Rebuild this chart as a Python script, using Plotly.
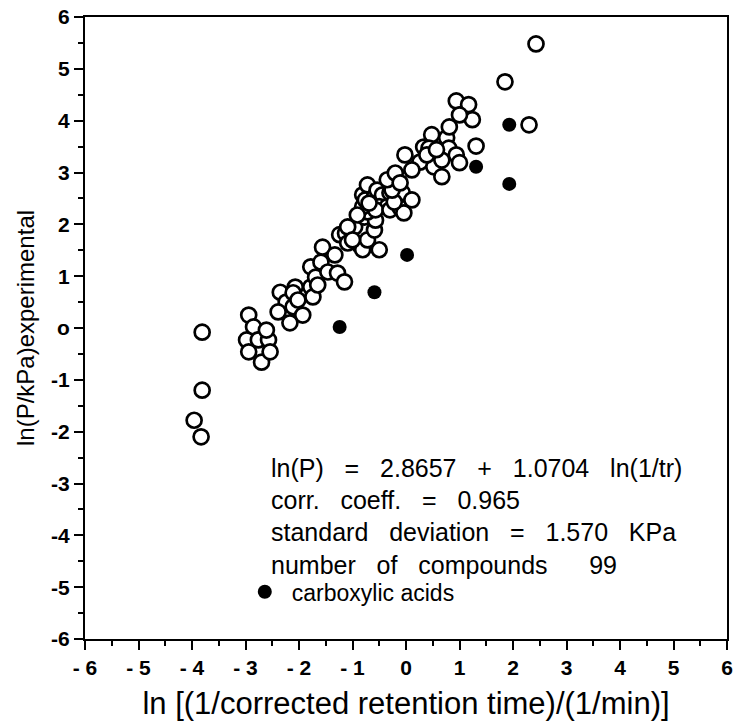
import plotly.graph_objects as go

# open circles: all compounds except the carboxylic acids
open_x = [-3.81, -3.81, -3.96, -3.83,
          -2.94, -2.85, -2.98, -2.94, -2.76, -2.57, -2.70, -2.54, -2.61,
          -2.35, -2.24, -2.39, -2.11, -2.17, -2.07, -2.11, -1.93, -1.78, -1.74, -2.02,
          -1.78, -1.59, -1.69, -1.46, -1.28, -1.15, -1.56, -1.33, -1.65,
          -1.24, -1.13, -1.09, -0.96, -1.09, -0.87, -0.81, -0.72, -0.59, -0.50, -1.00,
          -0.78, -0.57, -0.72, -0.81, -0.81, -0.76, -0.72, -0.59, -0.54, -0.44, -0.30,
          -0.50, -0.35, -0.57, -0.30, -0.11, -0.04, -0.07, 0.11, -0.22, -0.69, -0.91, -0.26,
          -0.35, -0.20, -0.11, -0.02, 0.26, 0.33, 0.52, 0.48, 0.43, 0.67, 0.11, 0.39,
          0.76, 0.80, 0.81, 0.94, 1.17, 1.24, 1.00, 0.94, 1.00, 1.31, 0.67, 0.57,
          1.85, 2.30, 2.43]
open_y = [-0.08, -1.20, -1.78, -2.10,
          0.25, 0.02, -0.23, -0.46, -0.23, -0.23, -0.66, -0.46, -0.04,
          0.69, 0.50, 0.31, 0.41, 0.10, 0.79, 0.68, 0.25, 0.79, 0.60, 0.54,
          1.18, 1.27, 0.98, 1.08, 1.06, 0.89, 1.56, 1.41, 0.83,
          1.80, 1.83, 1.64, 1.95, 1.95, 1.60, 1.51, 1.70, 1.89, 1.51, 1.70,
          2.14, 2.08, 2.24, 2.34, 2.57, 2.47, 2.76, 2.53, 2.66, 2.57, 2.61,
          2.34, 2.34, 2.28, 2.28, 2.32, 2.22, 2.61, 2.47, 2.43, 2.41, 2.18, 2.66,
          2.86, 2.99, 2.80, 3.34, 3.20, 3.49, 3.11, 3.73, 3.47, 2.92, 3.05, 3.34,
          3.67, 3.47, 3.88, 4.38, 4.31, 4.02, 4.11, 3.34, 3.19, 3.51, 3.24, 3.44,
          4.75, 3.92, 5.48]

# filled circles: carboxylic acids
acid_x = [1.93, 1.31, 1.93, 0.02, -0.59, -1.24]
acid_y = [3.92, 3.11, 2.78, 1.41, 0.69, 0.02]

tick_vals = [-6, -5, -4, -3, -2, -1, 0, 1, 2, 3, 4, 5, 6]
x_tick_text = ["- 6", "- 5", "- 4", "- 3", "- 2", "- 1", "0", "1", "2", "3", "4", "5", "6"]
y_tick_text = ["-6", "-5", "-4", "-3", "-2", "-1", "o", "1", "2", "3", "4", "5", "6"]

stats_lines = [
    "ln(P)   =   2.8657   +   1.0704   ln(1/tr)",
    "corr.   coeff.   =   0.965",
    "standard   deviation   =   1.570   KPa",
    "number   of   compounds      99",
]
stats_y = [-2.70, -3.32, -3.94, -4.58]

FONT = "Liberation Sans, Arial, Helvetica"

fig = go.Figure()
fig.add_trace(go.Scatter(
    x=open_x, y=open_y, mode="markers", showlegend=False,
    marker=dict(size=15, color="white", line=dict(color="black", width=2.7)),
))
fig.add_trace(go.Scatter(
    x=acid_x, y=acid_y, mode="markers", name="carboxylic acids",
    marker=dict(size=14, color="black"),
))

for txt, yy in zip(stats_lines, stats_y):
    fig.add_annotation(x=-2.57, y=yy, xref="x", yref="y", text=txt, showarrow=False,
                       xanchor="left", yanchor="middle",
                       font=dict(family=FONT, size=25, color="black"))

axis_common = dict(
    range=[-6, 6], tickvals=tick_vals, showgrid=False, zeroline=False,
    showline=True, linecolor="black", linewidth=2, mirror=True,
    ticks="outside", ticklen=9, tickwidth=2, tickcolor="black",
    tickfont=dict(family=FONT, size=21, color="black", weight="bold"),
    minor=dict(ticks="outside", ticklen=5, tickwidth=2, tickcolor="black", dtick=0.5),
)
fig.update_xaxes(axis_common, ticktext=["<b>%s</b>" % t for t in x_tick_text],
                 title=dict(text="ln [(1/corrected retention time)/(1/min)]", standoff=14,
                            font=dict(family=FONT, size=31, color="black")))
fig.update_yaxes(axis_common, ticktext=["<b>%s</b>" % t for t in y_tick_text],
                 title=dict(text="ln(P/kPa)experimental", standoff=10,
                            font=dict(family=FONT, size=24, color="black")))

fig.update_layout(
    width=738, height=721,
    margin=dict(l=85, r=5, t=17, b=82),
    plot_bgcolor="white", paper_bgcolor="white",
    legend=dict(x=0.238, y=0.076, xanchor="left", yanchor="middle",
                bgcolor="rgba(0,0,0,0)", itemwidth=44,
                font=dict(family=FONT, size=23, color="black")),
)

fig.write_html("out.html", config={"displayModeBar": False},
               post_script="document.body.style.margin='0';")
